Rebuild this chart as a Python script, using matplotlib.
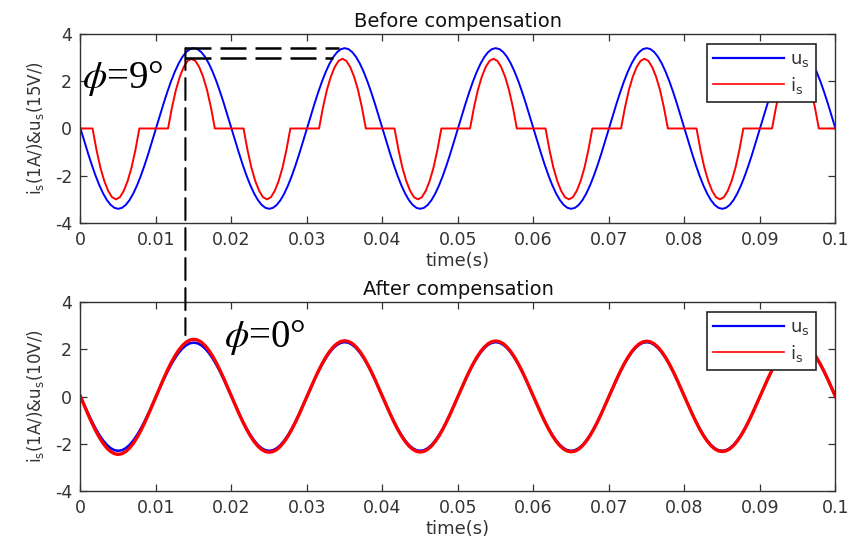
import numpy as np
import matplotlib
matplotlib.use("Agg")
import matplotlib.pyplot as plt
from matplotlib.patches import ConnectionPatch

# ---------------- data ----------------
HALF_PERIOD = 0.01          # s (50 Hz supply)
# normalised shape of one half-cycle of the supply waveform, sampled every 0.5 ms
sine_half_shape = [0.000, 0.156, 0.309, 0.454, 0.588, 0.707, 0.809, 0.891, 0.951, 0.988,
                   1.000, 0.988, 0.951, 0.891, 0.809, 0.707, 0.588, 0.454, 0.309, 0.156, 0.000]

# Before compensation
us_before_peaks = [-3.40, 3.40, -3.40, 3.40, -3.40, 3.40, -3.40, 3.40, -3.40, 3.40]
is_before_peaks = [-3.00, 2.95, -3.00, 2.95, -3.00, 2.95, -3.00, 2.95, -3.00, 2.95]
is_before_on = 0.0016       # conduction start inside each half-cycle (s)
is_before_off = 0.0078      # conduction end inside each half-cycle (s)
is_pulse_shape = [0.00, 0.30, 0.55, 0.74, 0.88, 0.97, 1.00, 0.97, 0.88, 0.74, 0.55, 0.30, 0.00]

# After compensation
us_after_peaks = [-2.30, 2.28, -2.30, 2.30, -2.30, 2.30, -2.30, 2.30, -2.30, 2.30]
is_after_peaks = [-2.45, 2.42, -2.36, 2.36, -2.35, 2.35, -2.34, 2.34, -2.33, 2.33]

xtick_vals = [0, 0.01, 0.02, 0.03, 0.04, 0.05, 0.06, 0.07, 0.08, 0.09, 0.1]
xtick_labels = ["0", "0.01", "0.02", "0.03", "0.04", "0.05", "0.06", "0.07", "0.08", "0.09", "0.1"]
ytick_vals = [-4, -2, 0, 2, 4]
ytick_labels = ["-4", "-2", "0", "2", "4"]

# annotation values
phase_t = 0.0139
us_peak_mark, is_peak_mark = 3.40, 3.00
us_mark_end, is_mark_end = 0.0342, 0.0335
after_mark_y = 2.6

# ---------------- build series ----------------
def build(peaks, shape_t, shape_y):
    t_all, y_all = [], []
    for k, a in enumerate(peaks):
        tt = k * HALF_PERIOD + np.asarray(shape_t)
        yy = a * np.asarray(shape_y)
        if k > 0:
            tt, yy = tt[1:], yy[1:]
        t_all.append(tt)
        y_all.append(yy)
    return np.concatenate(t_all), np.concatenate(y_all)

half_t = np.linspace(0, HALF_PERIOD, len(sine_half_shape))
pulse_t = np.linspace(is_before_on, is_before_off, len(is_pulse_shape))
is_half_t = np.concatenate([[0.0], pulse_t, [HALF_PERIOD]])
is_half_y = np.concatenate([[0.0], is_pulse_shape, [0.0]])

t_us1, us1 = build(us_before_peaks, half_t, sine_half_shape)
t_is1, is1 = build(is_before_peaks, is_half_t, is_half_y)
t_us2, us2 = build(us_after_peaks, half_t, sine_half_shape)
t_is2, is2 = build(is_after_peaks, half_t, sine_half_shape)

# ---------------- figure ----------------
plt.rcParams["font.family"] = ["DejaVu Sans"]
TXT = "#333333"

fig = plt.figure(figsize=(8.48, 5.42), dpi=100)
ax1 = fig.add_axes([0.0949, 0.5886, 0.8903, 0.3487])
ax2 = fig.add_axes([0.0949, 0.0941, 0.8903, 0.3487])

ax1.plot(t_us1, us1, color="#0000ff", lw=1.4, label=r"u$_\mathregular{s}$")
ax1.plot(t_is1, is1, color="#ff0000", lw=1.4, label=r"i$_\mathregular{s}$")
ax2.plot(t_us2, us2, color="#0000ff", lw=1.8, label=r"u$_\mathregular{s}$")
ax2.plot(t_is2, is2, color="#ff0000", lw=2.4, label=r"i$_\mathregular{s}$")

for ax, title, ylab in [(ax1, "Before compensation",
                         r"i$_\mathregular{s}$(1A/)&u$_\mathregular{s}$(15V/)"),
                        (ax2, "After compensation",
                         r"i$_\mathregular{s}$(1A/)&u$_\mathregular{s}$(10V/)")]:
    ax.set_xlim(0, 0.1)
    ax.set_ylim(-4, 4)
    ax.set_xticks(xtick_vals)
    ax.set_xticklabels(xtick_labels)
    ax.set_yticks(ytick_vals)
    ax.set_yticklabels(ytick_labels)
    ax.tick_params(direction="in", length=5, width=0.9, top=True, right=True,
                   labelsize=12.5, colors=TXT, pad=6)
    for s in ax.spines.values():
        s.set_color(TXT)
        s.set_linewidth(1.0)
    ax.set_title(title, fontsize=14, color="#111111", pad=5)
    ax.set_xlabel("time(s)", fontsize=13, color=TXT, labelpad=2)
    ax.set_ylabel(ylab, fontsize=12, color=TXT, labelpad=6)
    leg = ax.legend(loc="upper right", bbox_to_anchor=(0.974, 0.947), borderaxespad=0,
                    fontsize=13, handlelength=3.9, handletextpad=0.35, labelspacing=0.3,
                    borderpad=0.35, fancybox=False, framealpha=1, edgecolor="#262626")
    leg.get_frame().set_linewidth(1.2)
    for txt in leg.get_texts():
        txt.set_color(TXT)
    for h in leg.legend_handles:
        h.set_linewidth(1.6 if h.get_color() == "#0000ff" else 1.2)

# dashed marker lines
dash_h = (0, (10.4, 3.6))
ax1.plot([phase_t, us_mark_end], [us_peak_mark, us_peak_mark], color="k", lw=1.8, ls=dash_h)
ax1.plot([phase_t, is_mark_end], [is_peak_mark, is_peak_mark], color="k", lw=1.8, ls=dash_h)
con = ConnectionPatch(xyA=(phase_t, us_peak_mark), coordsA=ax1.transData,
                      xyB=(phase_t, after_mark_y), coordsB=ax2.transData,
                      color="k", lw=1.5, linestyle=(0, (10.5, 3.9)))
fig.add_artist(con)

ax1.text(0.0002, 1.70, r"$\phi$=9°", fontsize=28, family="Liberation Serif",
         math_fontfamily="stix", color="k", va="baseline", ha="left")
ax2.text(0.0190, 2.10, r"$\phi$=0°", fontsize=28, family="Liberation Serif",
         math_fontfamily="stix", color="k", va="baseline", ha="left")

fig.savefig("out.png", dpi=100)
